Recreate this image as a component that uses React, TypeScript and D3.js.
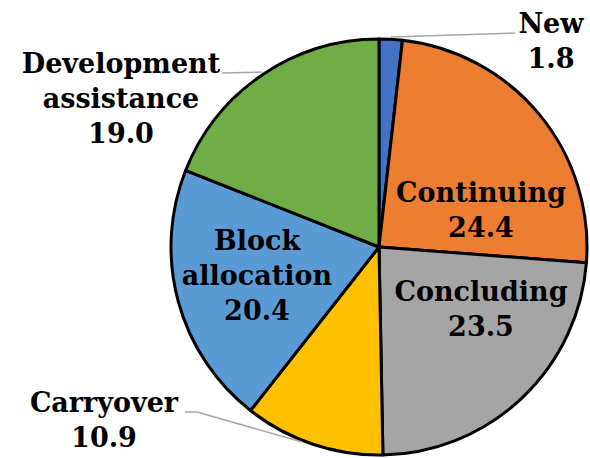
import React from "react";
import * as d3 from "d3";

const categories = ["New", "Continuing", "Concluding", "Carryover", "Block allocation", "Development assistance"];
const values = [1.8, 24.4, 23.5, 10.9, 20.4, 19.0];
const colors = ["#4472C4", "#ED7D31", "#A5A5A5", "#FFC000", "#5B9BD5", "#70AD47"];

// label layout (lines, center x, first baseline y)
const labelLayout: Record<string, { lines: string[]; x: number; y: number }> = {
  "New": { lines: ["New"], x: 551, y: 33 },
  "Continuing": { lines: ["Continuing"], x: 481, y: 202 },
  "Concluding": { lines: ["Concluding"], x: 481, y: 301 },
  "Carryover": { lines: ["Carryover"], x: 104, y: 412 },
  "Block allocation": { lines: ["Block", "allocation"], x: 257, y: 250 },
  "Development assistance": { lines: ["Development", "assistance"], x: 121, y: 73 },
};

const leaders: Record<string, [number, number][]> = {
  "New": [[391, 37], [515, 33]],
  "Development assistance": [[222, 73], [262, 72]],
  "Carryover": [[185, 412], [197, 412], [302, 442]],
};

export default function App() {
  const W = 590, H = 458;
  const cx = 379, cy = 247, r = 208;
  const pie = d3.pie<number>().sort(null).value((d) => d);
  const arcs = pie(values);
  const arc = d3.arc<d3.PieArcDatum<number>>().innerRadius(0).outerRadius(r);
  const line = d3.line();
  const lh = 35;
  return (
    <svg width={W} height={H} style={{ position: "absolute", left: 0, top: 0, background: "#fff" }}>
      <g transform={`translate(${cx},${cy})`}>
        {arcs.map((a, i) => (
          <path key={i} d={arc(a) || ""} fill={colors[i]} stroke="#000" strokeWidth={3} strokeLinejoin="round" />
        ))}
      </g>
      {Object.keys(leaders).map((k) => (
        <path key={k} d={line(leaders[k]) || ""} fill="none" stroke="#A6A6A6" strokeWidth={1.5} />
      ))}
      {categories.map((c, i) => {
        const L = labelLayout[c];
        const lines = [...L.lines, values[i].toFixed(1)];
        return (
          <text key={c} x={L.x} y={L.y} textAnchor="middle" fontFamily="DejaVu Serif" fontWeight="bold" fontSize={27} fill="#000">
            {lines.map((t, j) => (
              <tspan key={j} x={L.x} y={L.y + j * lh}>{t}</tspan>
            ))}
          </text>
        );
      })}
    </svg>
  );
}
